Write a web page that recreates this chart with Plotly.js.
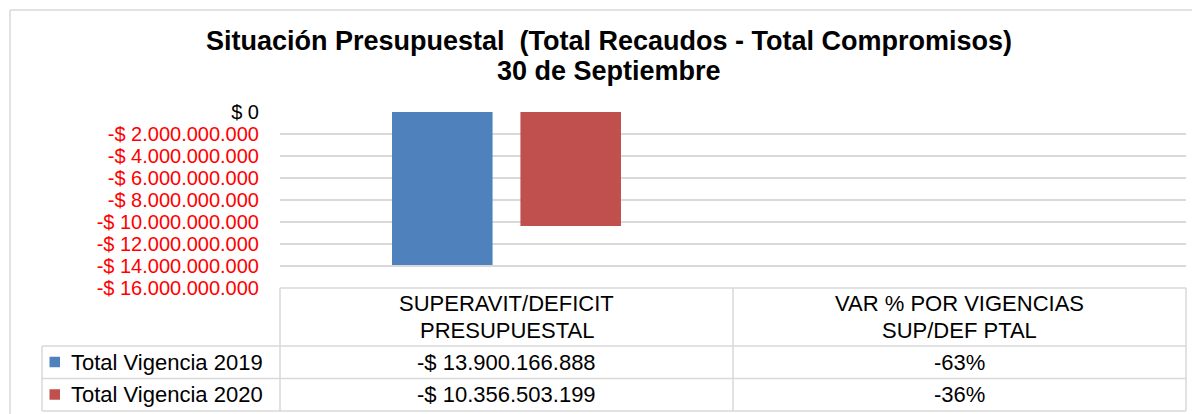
<!DOCTYPE html>
<html><head><meta charset="utf-8">
<script src="https://cdn.plot.ly/plotly-3.0.1.min.js"></script>
<style>html,body{margin:0;padding:0;background:#fff;} #chart{width:1192px;height:414px;}</style>
</head><body><div id="chart"></div>
<script>
// ---- data ----
const titleLines = ["Situación Presupuestal&nbsp; (Total Recaudos - Total Compromisos)", "30 de Septiembre"];
const categories = ["SUPERAVIT/DEFICIT<br>PRESUPUESTAL", "VAR % POR VIGENCIAS<br>SUP/DEF PTAL"];
const seriesNames = ["Total Vigencia 2019", "Total Vigencia 2020"];
const vigencia2019 = [-13900166888, -0.63];
const vigencia2020 = [-10356503199, -0.36];
const tickValues = [0, -2e9, -4e9, -6e9, -8e9, -10e9, -12e9, -14e9, -16e9];
const tickLabels = ["$ 0", "-$ 2.000.000.000", "-$ 4.000.000.000", "-$ 6.000.000.000", "-$ 8.000.000.000",
  "-$ 10.000.000.000", "-$ 12.000.000.000", "-$ 14.000.000.000", "-$ 16.000.000.000"];

// ---- styling / layout helpers ----
const seriesColors = ["#4F81BD", "#C0504D"];
const FONT = "Liberation Sans, Arial, sans-serif";
const W = 1192, H = 414;
const L = 280, R = 1186, T = 112, B = 288;
const px = x => (x - L) / (R - L);
const py = y => (B - y) / (B - T);
const GRID = "#D9D9D9";

function fmtMoney(v) {
  const s = Math.round(Math.abs(v)).toString().replace(/\B(?=(\d{3})+(?!\d))/g, ".");
  return (v < 0 ? "-$ " : "$ ") + s;
}
function fmtPct(v) { return Math.round(v * 100) + "%"; }

const series = [vigencia2019, vigencia2020];
const traces = series.map((vals, i) => ({
  type: "bar", x: categories, y: vals, name: seriesNames[i],
  marker: {color: seriesColors[i]}, hoverinfo: "none"
}));

const shapes = [];
function line(x0, y0, x1, y1) {
  shapes.push({type: "line", xref: "paper", yref: "paper", x0: px(x0), y0: py(y0), x1: px(x1), y1: py(y1),
    line: {color: GRID, width: 1.5}, layer: "above"});
}
// outer border
line(10, 10, 1200, 10); line(10, 10, 10, 420);
// table
const rowTop = [346, 378.5], rowBot = [378.5, 411];
line(280, 288, 1186, 288);
line(42, 346, 1186, 346);
line(42, 378.5, 1186, 378.5);
line(42, 411, 1186, 411);
line(42, 346, 42, 411);
line(280, 288, 280, 411);
line(733, 288, 733, 411);
line(1186, 288, 1186, 411);

const annotations = [];
// title
annotations.push({xref: "paper", yref: "paper", x: px(609), y: py(41), xanchor: "center", yanchor: "middle",
  text: "<b>" + titleLines[0] + "</b>", showarrow: false, font: {family: FONT, size: 27, color: "#000"}});
annotations.push({xref: "paper", yref: "paper", x: px(609), y: py(71), xanchor: "center", yanchor: "middle",
  text: "<b>" + titleLines[1] + "</b>", showarrow: false, font: {family: FONT, size: 27, color: "#000"}});
// header cells
const headerLineY = [303, 330];
categories.forEach((c, j) => {
  c.split("<br>").forEach((ln, k) => {
    annotations.push({xref: "x", yref: "paper", x: j, y: py(headerLineY[k]), xanchor: "center", yanchor: "middle",
      text: ln, showarrow: false, font: {family: FONT, size: 22, color: "#000"}});
  });
});
// rows
series.forEach((vals, i) => {
  const cy = (rowTop[i] + rowBot[i]) / 2;
  shapes.push({type: "rect", xref: "paper", yref: "paper", x0: px(49.5), x1: px(60), y0: py(cy - 5.5), y1: py(cy + 5),
    fillcolor: seriesColors[i], line: {width: 0}});
  annotations.push({xref: "paper", yref: "paper", x: px(69), y: py(cy), xanchor: "left", yanchor: "middle",
    text: seriesNames[i], showarrow: false, font: {family: FONT, size: 22, color: "#000"}});
  vals.forEach((v, j) => {
    annotations.push({xref: "x", yref: "paper", x: j, y: py(cy), xanchor: "center", yanchor: "middle",
      text: j === 0 ? fmtMoney(v) : fmtPct(v), showarrow: false, font: {family: FONT, size: 22, color: "#000"}});
  });
});

const layout = {
  width: W, height: H,
  margin: {l: L, r: W - R, t: T, b: H - B, pad: 0},
  paper_bgcolor: "#fff", plot_bgcolor: "#fff",
  showlegend: false, barmode: "group", bargap: 0.433, bargroupgap: 0.217,
  font: {family: FONT, size: 20, color: "#000"},
  xaxis: {type: "category", showticklabels: false, showgrid: false, zeroline: false, showline: false, fixedrange: true},
  yaxis: {range: [-16e9, 0], tickmode: "array", tickvals: tickValues,
    ticktext: tickLabels.map((t, k) => tickValues[k] < 0 ? '<span style="color:#FF0000">' + t + '</span>' : t),
    showgrid: true, gridcolor: GRID, gridwidth: 1.5, zeroline: false, showline: false,
    ticks: "outside", ticklen: 16, tickcolor: "rgba(0,0,0,0)",
    tickfont: {family: FONT, size: 20, color: "#000"}, fixedrange: true},
  shapes: shapes, annotations: annotations
};
Plotly.newPlot("chart", traces, layout, {displayModeBar: false, staticPlot: true});
</script></body></html>
